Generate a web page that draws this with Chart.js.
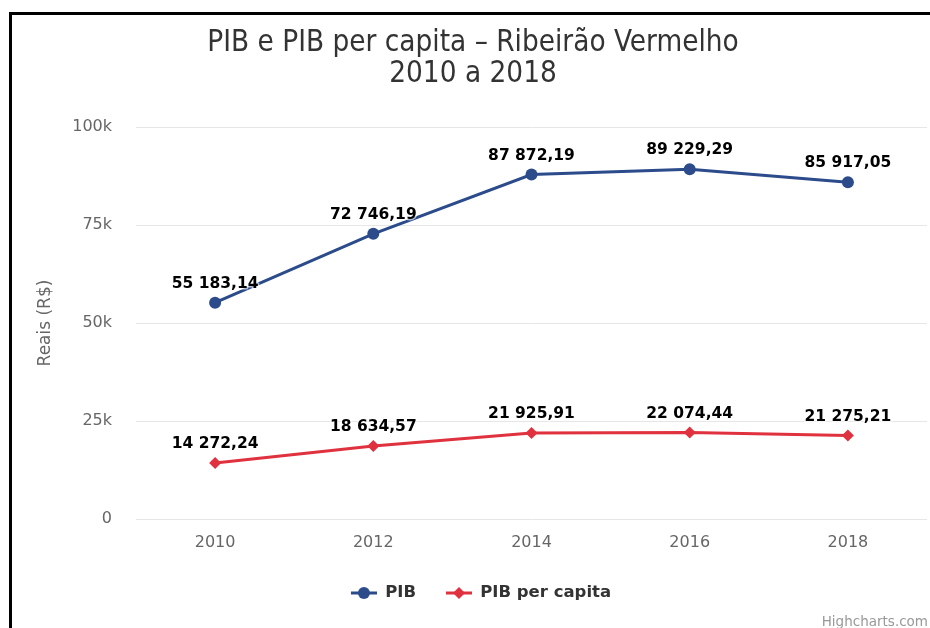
<!DOCTYPE html>
<html>
<head>
<meta charset="utf-8">
<script src="https://cdn.jsdelivr.net/npm/chart.js@4.4.1/dist/chart.umd.min.js"></script>
<style>
  html, body { margin: 0; padding: 0; background: #fff; }
  #wrap { position: relative; width: 930px; height: 628px; overflow: hidden; background: #fff; }
  #frame { position: absolute; left: 9px; top: 12px; width: 930px; height: 640px;
           border-left: 3px solid #000; border-top: 3px solid #000; pointer-events: none; }
  canvas { position: absolute; left: 0; top: 0; }
</style>
</head>
<body>
<div id="wrap">
  <canvas id="c" width="930" height="628"></canvas>
  <div id="frame"></div>
</div>
<script>
// ---- data ----
const categories = ['2010', '2012', '2014', '2016', '2018'];
const pibValues = [55183.14, 72746.19, 87872.19, 89229.29, 85917.05];
const pibPerCapitaValues = [14272.24, 18634.57, 21925.91, 22074.44, 21275.21];
const seriesNames = ['PIB', 'PIB per capita'];
const titleLines = ['PIB e PIB per capita \u2013 Ribeir\u00e3o Vermelho', '2010 a 2018'];
const yAxisTitle = 'Reais (R$)';
const creditText = 'Highcharts.com';

const BLUE = '#2b4b8b';
const RED = '#e0313e';
const FONT = "'DejaVu Sans', Verdana, sans-serif";
const TITLE_FONT = "'DejaVu Sans Condensed', 'DejaVu Sans', sans-serif";

function fmt(n) {
  const parts = n.toFixed(2).split('.');
  const intPart = parts[0].replace(/\B(?=(\d{3})+(?!\d))/g, ' ');
  return intPart + ',' + parts[1];
}

function legendMarker(color, type) {
  const c = document.createElement('canvas');
  c.width = 46; c.height = 14;
  const g = c.getContext('2d');
  const cx = 20 + 13, cy = 7;
  g.strokeStyle = color; g.lineWidth = 3;
  g.beginPath(); g.moveTo(20, cy); g.lineTo(46, cy); g.stroke();
  g.fillStyle = color;
  g.beginPath();
  if (type === 'circle') {
    g.arc(cx, cy, 6, 0, Math.PI * 2);
  } else {
    g.moveTo(cx, cy - 6); g.lineTo(cx + 6, cy); g.lineTo(cx, cy + 6); g.lineTo(cx - 6, cy); g.closePath();
  }
  g.fill();
  return c;
}
const markers = [legendMarker(BLUE, 'circle'), legendMarker(RED, 'diamond')];

const dataLabelPlugin = {
  id: 'dataLabels',
  afterDatasetsDraw(chart) {
    const ctx = chart.ctx;
    ctx.save();
    ctx.font = "bold 15.5px " + FONT;
    ctx.textAlign = 'center';
    ctx.textBaseline = 'middle';
    chart.data.datasets.forEach((ds, di) => {
      const meta = chart.getDatasetMeta(di);
      meta.data.forEach((pt, i) => {
        const txt = fmt(ds.data[i]);
        ctx.lineWidth = 3;
        ctx.strokeStyle = 'rgba(255,255,255,0.6)';
        ctx.lineJoin = 'round';
        ctx.strokeText(txt, pt.x, pt.y - 19);
        ctx.fillStyle = '#000';
        ctx.fillText(txt, pt.x, pt.y - 19);
      });
    });
    ctx.restore();
  }
};

const creditPlugin = {
  id: 'credit',
  afterLayout(chart) {
    if (chart.legend) { chart.legend.left += 2.5; chart.legend.right += 2.5; }
    if (chart.titleBlock) { chart.titleBlock.left += 4.5; chart.titleBlock.right += 4.5; }
  },
  afterDraw(chart) {
    const ctx = chart.ctx;
    ctx.save();
    ctx.font = "13.5px " + FONT;
    ctx.fillStyle = '#999';
    ctx.textAlign = 'right';
    ctx.textBaseline = 'middle';
    ctx.fillText(creditText, 928, 622);
    ctx.restore();
  }
};

new Chart(document.getElementById('c'), {
  type: 'line',
  data: {
    labels: categories,
    datasets: [
      {
        label: seriesNames[0], data: pibValues,
        borderColor: BLUE, backgroundColor: BLUE, borderWidth: 3,
        pointStyle: 'circle', pointRadius: 6, pointHoverRadius: 6,
        pointBorderWidth: 0, tension: 0
      },
      {
        label: seriesNames[1], data: pibPerCapitaValues,
        borderColor: RED, backgroundColor: RED, borderWidth: 3,
        pointStyle: 'rectRot', pointRadius: 6, pointHoverRadius: 6,
        pointBorderWidth: 0, tension: 0
      }
    ]
  },
  plugins: [dataLabelPlugin, creditPlugin],
  options: {
    responsive: false,
    animation: false,
    events: [],
    layout: { autoPadding: false, padding: { left: 10, right: 3, top: 0, bottom: 16.75 } },
    plugins: {
      tooltip: { enabled: false },
      title: {
        display: true,
        text: titleLines,
        color: '#333',
        font: { family: TITLE_FONT, size: 29.4, weight: 'normal', lineHeight: 1.055 },
        padding: { top: 27.5, bottom: 37.5 }
      },
      legend: {
        position: 'bottom',
        labels: {
          usePointStyle: true,
          pointStyleWidth: 46,
          boxHeight: 14,
          padding: 10,
          color: '#333',
          font: { family: FONT, size: 16.5, weight: 'bold' },
          generateLabels(chart) {
            const items = Chart.defaults.plugins.legend.labels.generateLabels(chart);
            items.forEach((it, i) => { it.pointStyle = markers[i]; });
            return items;
          }
        }
      }
    },
    scales: {
      x: {
        offset: true,
        grid: { display: false, drawTicks: false },
        border: { display: false },
        ticks: { color: '#666', padding: 14, font: { family: FONT, size: 16 } },
        afterFit(scale) { scale.height = 55.75; }
      },
      y: {
        min: 0, max: 100000,
        grid: { color: '#e6e6e6', lineWidth: 1, drawTicks: false },
        border: { display: false },
        ticks: {
          stepSize: 25000, color: '#666', padding: 24,
          font: { family: FONT, size: 16 },
          callback: (v) => v === 0 ? '0' : (v / 1000) + 'k'
        },
        title: {
          display: true, text: yAxisTitle, color: '#666',
          font: { family: FONT, size: 17 }, padding: { top: 25.8, bottom: 0 }
        },
        afterFit(scale) { scale.width = 126; }
      }
    }
  }
});
</script>
</body>
</html>
